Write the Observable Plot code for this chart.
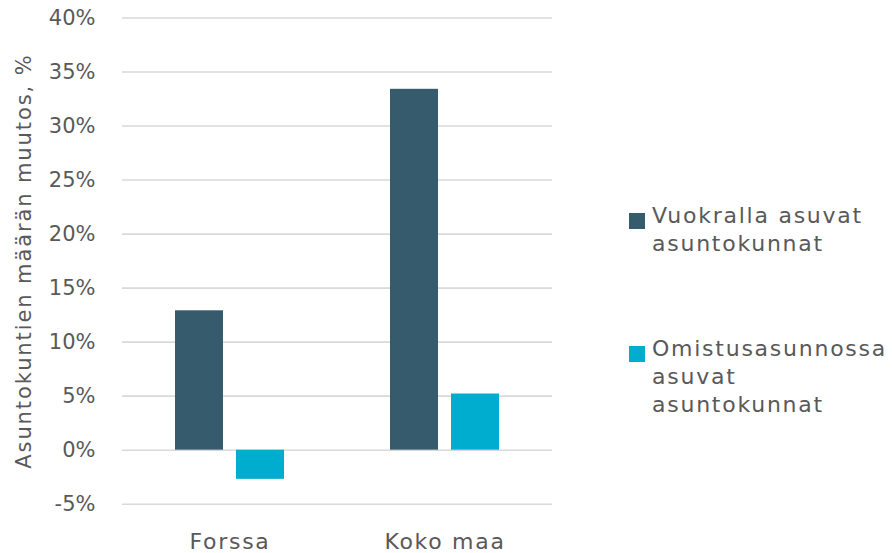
<!DOCTYPE html>
<html>
<head>
<meta charset="utf-8">
<script src="https://cdn.jsdelivr.net/npm/d3@7"></script>
<script src="https://cdn.jsdelivr.net/npm/@observablehq/plot@0.6"></script>
<style>
  html, body { margin: 0; padding: 0; background: #fff; }
  #wrap { position: relative; width: 892px; height: 553px; overflow: hidden; font-family: "DejaVu Sans", sans-serif; }
  #wrap svg { position: absolute; left: 0; top: 0; }
  #wrap svg text { fill: #595959; }
  #wrap svg g[aria-label="fx-axis tick label"] text { letter-spacing: 1.7px; }
  #wrap svg g[aria-label="y-axis label"] text { letter-spacing: 1.9px; }
  .legend { position: absolute; left: 629px; top: 0; width: 263px; height: 553px; }
  .item { position: absolute; left: 0; display: flex; align-items: flex-start; }
  .swatch { width: 16px; height: 16px; margin-top: 11px; margin-right: 7px; flex: none; }
  .label { width: 240px; font-size: 22px; line-height: 28px; letter-spacing: 1.75px; color: #595959; }
</style>
</head>
<body>
<div id="wrap"></div>
<script>
const categories = ["Forssa", "Koko maa"];
const series = ["Vuokralla asuvat asuntokunnat", "Omistusasunnossa asuvat asuntokunnat"];
const rentValues = [12.9, 33.4];
const ownValues = [-2.7, 5.2];
const yTicks = [-5, 0, 5, 10, 15, 20, 25, 30, 35, 40];
const colors = ["#365b6d", "#00adce"];
const yLabel = "Asuntokuntien määrän muutos, %";

const data = [];
categories.forEach((c, i) => {
  data.push({category: c, series: series[0], value: rentValues[i]});
  data.push({category: c, series: series[1], value: ownValues[i]});
});

const chart = Plot.plot({
  width: 892,
  height: 553,
  marginLeft: 121,
  marginRight: 340,
  marginTop: 17.5,
  marginBottom: 49.3,
  style: {fontFamily: "DejaVu Sans", background: "#fff", overflow: "visible"},
  fx: {domain: categories, padding: 0, label: null},
  x: {domain: series, paddingInner: 0.2114, paddingOuter: 0.862, axis: null},
  y: {domain: [-5, 40], label: null},
  color: {domain: series, range: colors},
  marks: [
    Plot.gridY(yTicks, {stroke: "#d9d9d9", strokeOpacity: 1, strokeWidth: 1.6}),
    Plot.barY(data, {fx: "category", x: "series", y: "value", fill: "series"}),
    Plot.axisY(yTicks, {tickSize: 0, tickPadding: 27, tickFormat: d => d + "%", fontSize: 21,
      label: yLabel, labelAnchor: "center", labelOffset: 106, labelArrow: "none"}),
    Plot.axisFx({anchor: "bottom", tickSize: 0, tickPadding: 29, fontSize: 22, label: null})
  ]
});

const wrap = document.getElementById("wrap");
wrap.appendChild(chart);

const legend = document.createElement("div");
legend.className = "legend";
const tops = [201.5, 334.5];
series.forEach((s, i) => {
  const item = document.createElement("div");
  item.className = "item";
  item.style.top = tops[i] + "px";
  const sw = document.createElement("div");
  sw.className = "swatch";
  sw.style.background = colors[i];
  const lb = document.createElement("div");
  lb.className = "label";
  lb.textContent = s;
  item.appendChild(sw);
  item.appendChild(lb);
  legend.appendChild(item);
});
wrap.appendChild(legend);
</script>
</body>
</html>
